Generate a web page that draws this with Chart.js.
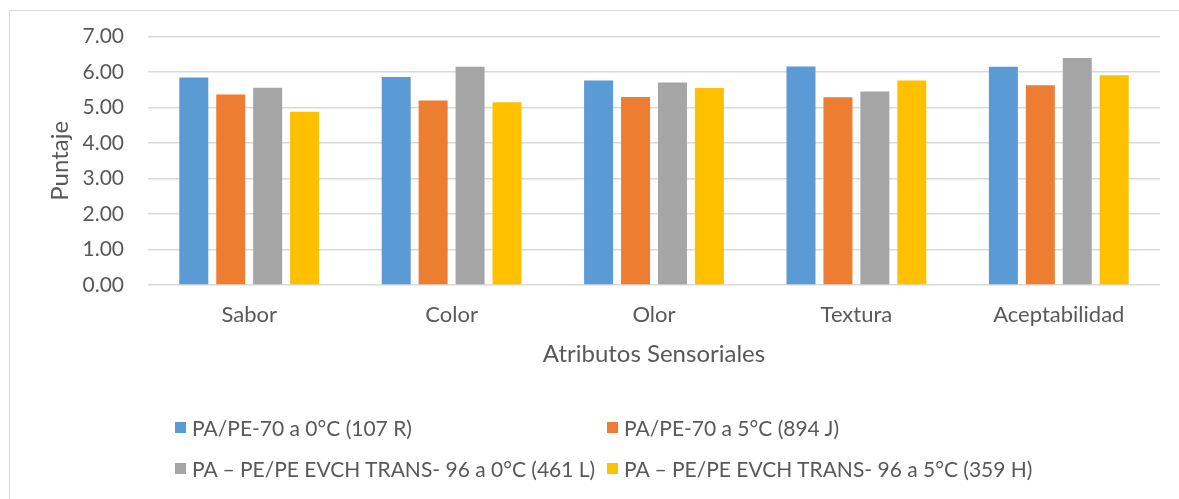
<!DOCTYPE html>
<html>
<head>
<meta charset="utf-8">
<script src="https://cdn.jsdelivr.net/npm/chart.js@4/dist/chart.umd.min.js"></script>
<style>
    body { margin: 0; background: #fff; }
    #wrap { position: relative; width: 1179px; height: 499px; overflow: hidden; }
    #frame { position: absolute; left: 9px; top: 10px; width: 1200px; height: 520px; border: 1px solid #d9d9d9; }
    canvas { position: absolute; left: 0; top: 0; }
    #legend {
        position: absolute; left: 175px; top: 414px;
        display: grid; grid-template-columns: 432px auto; row-gap: 15px;
        font-family: Lato, sans-serif; font-size: 21px; color: #595959;
    }
    .item { display: flex; align-items: center; height: 26px; white-space: nowrap; }
    .box { width: 11px; height: 11px; margin-right: 6px; }
</style>
</head>
<body>
<div id="wrap">
    <div id="frame"></div>
    <canvas id="chart" width="1179" height="499"></canvas>
    <div id="legend"></div>
</div>
<script>
const categories = ['Sabor', 'Color', 'Olor', 'Textura', 'Aceptabilidad'];
const seriesNames = [
    'PA/PE-70 a 0°C (107 R)',
    'PA/PE-70 a 5°C (894 J)',
    'PA – PE/PE EVCH TRANS- 96 a 0°C (461 L)',
    'PA – PE/PE EVCH TRANS- 96 a 5°C (359 H)'
];
const pa70at0 = [5.85, 5.86, 5.76, 6.16, 6.15];
const pa70at5 = [5.37, 5.20, 5.30, 5.29, 5.63];
const evchAt0 = [5.56, 6.15, 5.71, 5.45, 6.40];
const evchAt5 = [4.88, 5.15, 5.55, 5.76, 5.91];
const colors = ['#5B9BD5', '#ED7D31', '#A5A5A5', '#FFC000'];

const values = [pa70at0, pa70at5, evchAt0, evchAt5];
const textColor = '#595959';
const fontFamily = 'Lato, sans-serif';

const chart = new Chart(document.getElementById('chart').getContext('2d'), {
    type: 'bar',
    data: {
        labels: categories,
        datasets: values.map((v, i) => ({
            label: seriesNames[i],
            data: v,
            backgroundColor: colors[i],
            categoryPercentage: 0.73,
            barPercentage: 0.785
        }))
    },
    options: {
        responsive: false,
        animation: false,
        layout: { padding: { left: 46, right: 19, top: 30, bottom: 126 } },
        plugins: { legend: { display: false }, tooltip: { enabled: false } },
        scales: {
            x: {
                grid: { display: false, drawTicks: false },
                border: { display: false },
                ticks: { color: textColor, font: { family: fontFamily, size: 22 }, padding: 17 },
                title: { display: true, text: 'Atributos Sensoriales', color: textColor, font: { family: fontFamily, size: 24 } },
                afterFit: s => { s.height = 88; }
            },
            y: {
                min: 0, max: 7,
                grid: { color: '#d9d9d9', lineWidth: 1.5, drawTicks: false },
                border: { display: false },
                ticks: {
                    stepSize: 1, color: textColor, padding: 24,
                    font: { family: fontFamily, size: 21 },
                    callback: v => v.toFixed(2)
                },
                title: { display: true, text: 'Puntaje', color: textColor, font: { family: fontFamily, size: 24 }, padding: 0 },
                afterFit: s => { s.width = 102; }
            }
        }
    }
});

const legend = document.getElementById('legend');
chart.data.datasets.forEach(ds => {
    const item = document.createElement('div');
    item.className = 'item';
    item.innerHTML = '<span class="box" style="background:' + ds.backgroundColor + '"></span><span></span>';
    item.lastChild.textContent = ds.label;
    legend.appendChild(item);
});
</script>
</body>
</html>
